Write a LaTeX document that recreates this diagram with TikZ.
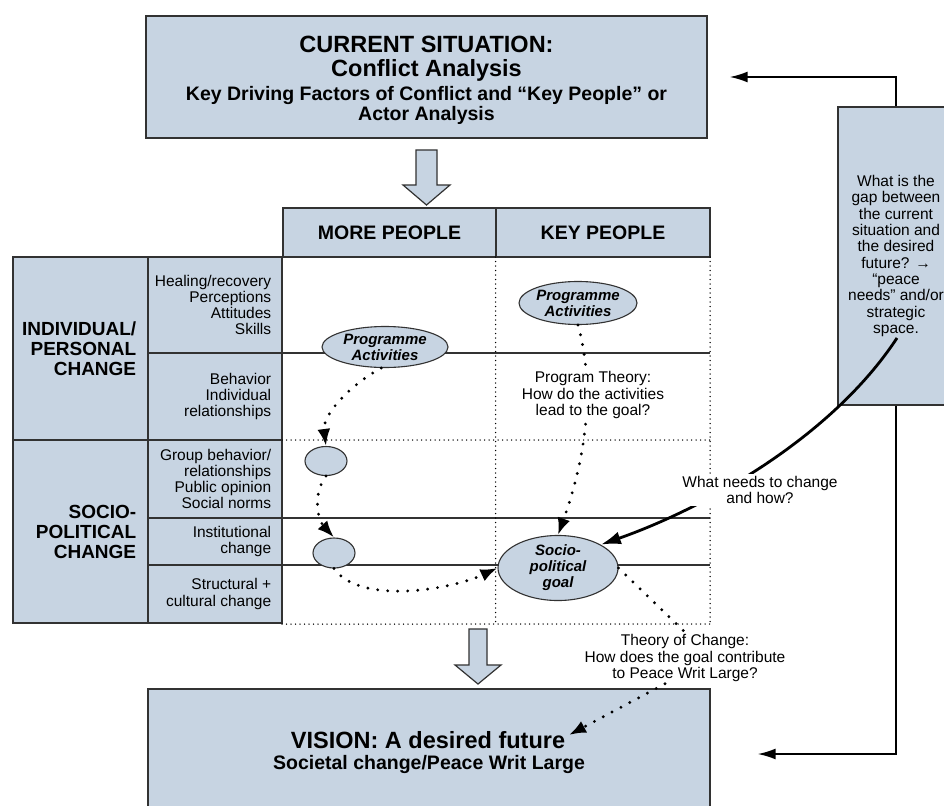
\documentclass[tikz,border=0pt]{standalone}
\usepackage{fontspec}
\setmainfont{Liberation Sans}
\usetikzlibrary{positioning,shapes.geometric,arrows.meta}
\definecolor{boxblue}{RGB}{199,212,226}
\definecolor{edgegray}{RGB}{50,50,50}

\begin{document}
\begin{tikzpicture}[x=1pt,y=-1pt,
    cell/.style={draw=edgegray,line width=1.4pt,fill=boxblue,inner sep=0pt},
    blob/.style={ellipse,draw=edgegray,line width=1.1pt,fill=boxblue,inner sep=0pt,align=center,
        font=\fontsize{15}{16}\selectfont\bfseries\itshape},
    titlefont/.style={font=\fontsize{23.5}{24}\selectfont\bfseries,align=center},
    headfont/.style={font=\fontsize{19.5}{20}\selectfont\bfseries,align=center},
    sidefont/.style={font=\fontsize{19}{20}\selectfont\bfseries,align=right},
    rowfont/.style={font=\fontsize{15.5}{16.3}\selectfont,align=right},
    bodytext/.style={font=\fontsize{15.5}{16.3}\selectfont,align=center,inner sep=2pt},
    dotline/.style={line width=3.2pt,line cap=round,dash pattern=on 0pt off 10pt},
    griddot/.style={line width=1.5pt,line cap=round,dash pattern=on 0pt off 4.5pt},
    tip/.style={-{Latex[length=17pt,width=13pt]}},
    hollow/.style={draw=edgegray,line width=1.2pt,fill=boxblue}]

    \clip(0,0)rectangle(944,805);
    \fill[white](0,0)rectangle(944,805);

    % current situation
    \node[cell,minimum width=561pt,minimum height=122pt](top)at(426.5,77){};
    \node[titlefont](toptitle)at(426.5,59){CURRENT SITUATION:\\Conflict Analysis};
    \node[headfont](topsub)at(426.5,105){Key Driving Factors of Conflict and “Key People” or\\Actor Analysis};

    % vision
    \node[cell,minimum width=562pt,minimum height=130pt](vision)at(429,754){};
    \node[titlefont](vtitle)at(428,740){VISION: A desired future};
    \node[headfont](vsub)at(429,764){Societal change/Peace Writ Large};

    % gap box
    \node[cell,bodytext,minimum width=116pt,minimum height=298pt](gap)at(896,256)
        {What is the\\gap between\\the current\\situation and\\the desired\\future? →\\“peace\\needs” and/or\\strategic\\space.};
    \coordinate(gapfoot)at(897,338);

    % hollow arrows
    \filldraw[hollow](416,150)--(437,150)--(437,185)--(450,185)--(426.5,205)--(403,185)--(416,185)--cycle;
    \filldraw[hollow](469,629)--(487,629)--(487,665)--(501,665)--(478,684)--(455,665)--(469,665)--cycle;

    % table head
    \node[cell,headfont,minimum width=213pt,minimum height=49pt](more)at(389.5,232.5){MORE PEOPLE};
    \node[cell,headfont,minimum width=214pt,minimum height=49pt](key)at(603,232.5){KEY PEOPLE};

    % side column
    \node[cell,minimum width=135pt,minimum height=183pt](indiv)at(80.5,348.5){};
    \node[cell,minimum width=135pt,minimum height=183pt](socio)at(80.5,531.5){};
    \node[sidefont,left=9pt of indiv.east](indivtext){INDIVIDUAL/\\PERSONAL\\CHANGE};
    \node[sidefont,left=9pt of socio.east](sociotext){SOCIO-\\POLITICAL\\CHANGE};

    \node[cell,minimum width=134pt,minimum height=96pt](heal)at(215,305){};
    \node[cell,minimum width=134pt,minimum height=87pt](behav)at(215,396.5){};
    \node[cell,minimum width=134pt,minimum height=78pt](group)at(215,479){};
    \node[cell,minimum width=134pt,minimum height=47pt](instit)at(215,541.5){};
    \node[cell,minimum width=134pt,minimum height=58pt](struct)at(215,594){};
    \node[rowfont,left=8pt of heal.east](healtext){Healing/recovery\\Perceptions\\Attitudes\\Skills};
    \node[rowfont,left=8pt of behav.east](behavtext){Behavior\\Individual\\relationships};
    \node[rowfont,left=8pt of group.east](grouptext){Group behavior/\\relationships\\Public opinion\\Social norms};
    \node[rowfont,left=8pt of instit.east](instittext){Institutional\\change};
    \node[rowfont,left=8pt of struct.east](structtext){Structural +\\cultural change};

    % grid
    \draw[edgegray,line width=1.2pt](282,353)--(710,353)(282,518)--(710,518)(282,565)--(710,565);
    \draw[griddot](282,440)--(710,440)(495.5,257)--(495.5,624)(710,257)--(710,624)(282,624)--(710,624);

    % ellipses
    \node[blob,minimum width=126pt,minimum height=41pt](pa1)at(385,347){Programme\\Activities};
    \node[blob,minimum width=118pt,minimum height=43pt](pa2)at(578,303){Programme\\Activities};
    \node[blob,minimum width=42pt,minimum height=29pt](circ1)at(326,461){};
    \node[blob,minimum width=42pt,minimum height=30pt](circ2)at(334,553){};
    \node[blob,minimum width=120pt,minimum height=57pt](goal)at(558,568){Socio-\\political\\goal};
    \coordinate(vtip)at(569,735);

    % dotted paths
    \draw[dotline,tip](pa1.260)..controls(350,385)and(322,415)..(circ1.north);
    \draw[dotline,tip](circ1.south)..controls(312,495)and(318,520)..(circ2.north);
    \draw[dotline,tip](circ2.south)..controls(360,605)and(450,590)..(goal.west);
    \draw[dotline,tip](pa2.south)..controls(596,390)and(585,460)..(goal.north);
    \node[bodytext,fill=white](ptheory)at(593,395){Program Theory:\\How do the activities\\lead to the goal?};

    \node[bodytext,fill=white](toc)at(685,658){Theory of Change:\\How does the goal contribute\\to Peace Writ Large?};
    \draw[dotline](goal.east)--(toc.north);
    \draw[dotline,tip]([xshift=-20pt]toc.south)--(vtip);

    % feedback
    \draw[line width=2.8pt,-{Latex[length=20pt,width=13pt]}](gapfoot)..controls(830,440)and(700,510)..(goal.north east);
    \node[bodytext,fill=white](needs)at(760,490){What needs to change\\and how?};
    \draw[line width=1.8pt,-{Latex[length=18pt,width=11pt]},shorten >=22pt](gap.north)|-(top.east);
    \draw[line width=1.8pt,-{Latex[length=18pt,width=11pt]},shorten >=47pt](gap.south)|-(vision.east);
\end{tikzpicture}
\end{document}
